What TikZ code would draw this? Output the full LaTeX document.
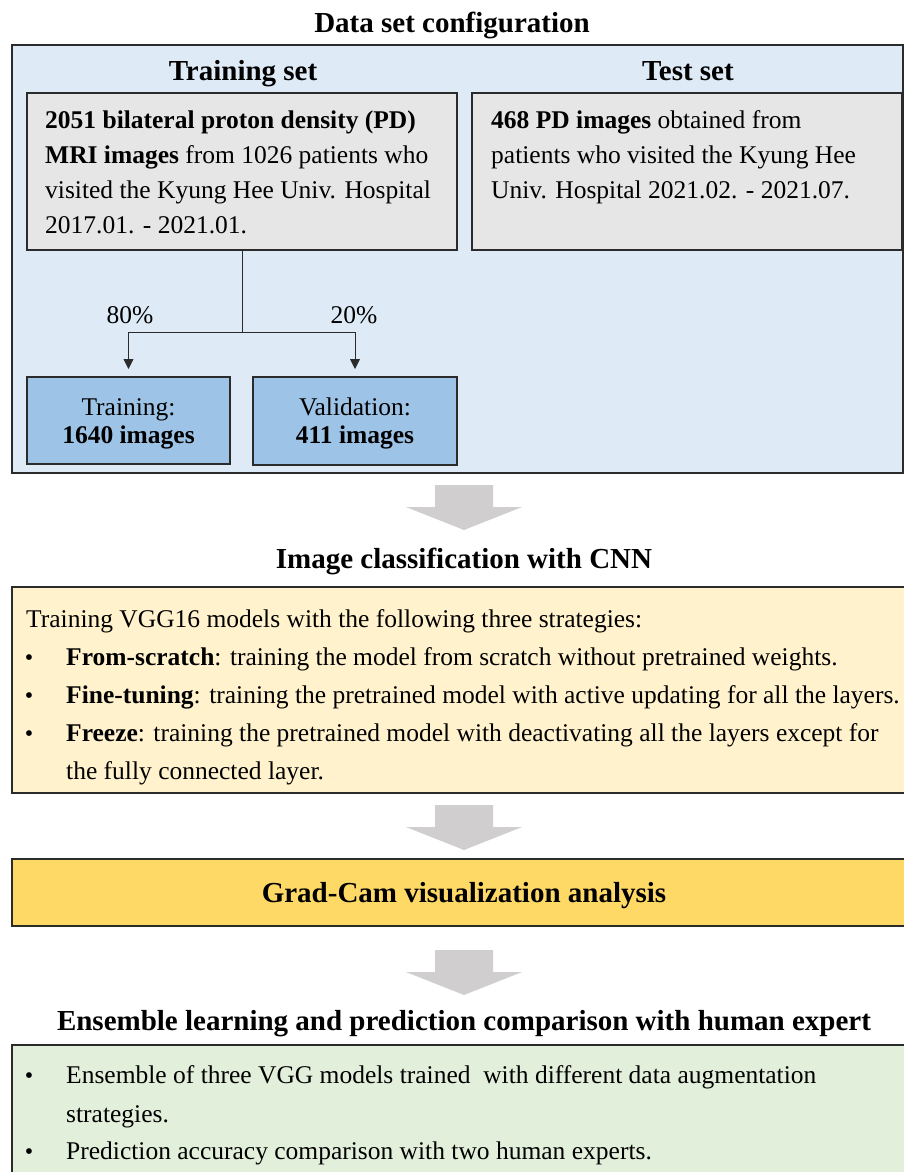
\documentclass[tikz,border=0pt]{standalone}
\usepackage{fontspec}
\setmainfont{Liberation Serif}
\usetikzlibrary{arrows.meta}
\definecolor{bordercol}{HTML}{2B2B2B}
\definecolor{outerblue}{HTML}{DEEBF7}
\definecolor{subblue}{HTML}{9DC3E6}
\definecolor{boxgray}{HTML}{E7E6E6}
\definecolor{lightyellow}{HTML}{FFF2CC}
\definecolor{gold}{HTML}{FFD966}
\definecolor{lightgreen}{HTML}{E2EFDA}
\definecolor{arrowgray}{HTML}{D0CECE}
\tikzset{
  box/.style={draw=bordercol, line width=1.5bp, anchor=north west, inner sep=0, outer sep=0},
  txt/.style={font=\fontsize{25.5bp}{35bp}\selectfont, anchor=base west, inner sep=0},
  ctxt/.style={font=\fontsize{25.5bp}{35bp}\selectfont, anchor=base, inner sep=0},
  ttl/.style={font=\bfseries\fontsize{29bp}{34bp}\selectfont, anchor=base, inner sep=0},
  bul/.style={font=\fontsize{24bp}{35bp}\selectfont, anchor=base, inner sep=0},
  conn/.style={draw=bordercol, line width=0.9bp},
  arr/.style={conn, -{Triangle[width=10bp,length=10bp]}, shorten >=8bp},
  bigarrow/.pic={\fill[arrowgray] (-29,0) -- (29,0) -- (29,22) -- (58,22) -- (0,45) -- (-58,22) -- (-29,22) -- cycle;}
}
\begin{document}
\begin{tikzpicture}[x=1bp,y=-1bp]
\useasboundingbox (0,0) rectangle (904,1172);
\clip (0,0) rectangle (904,1172);
% ---------- Data set configuration ----------
\node[ttl] (t1) at (452,32) {Data set configuration};
\node[box, fill=outerblue, minimum width=891bp, minimum height=428bp] (outer) at (12,45) {};
\node[ttl] (trs) at (243,80) {Training set};
\node[ttl] (tes) at (688,80) {Test set};
\node[box, fill=boxgray, minimum width=430bp, minimum height=157bp] (tr) at (27,93) {};
\node[box, fill=boxgray, minimum width=430bp, minimum height=157bp] (te) at (472,93) {};
\node[txt] (tr1) at (45,128) {\textbf{2051 bilateral proton density (PD)}};
\node[txt] (tr2) at (45,163) {\textbf{MRI images} from 1026 patients who};
\node[txt] (tr3) at (45,198) {visited the Kyung Hee Univ. Hospital};
\node[txt] (tr4) at (45,233) {2017.01. - 2021.01.};
\node[txt] (te1) at (491,128) {\textbf{468 PD images} obtained from};
\node[txt] (te2) at (491,163) {patients who visited the Kyung Hee};
\node[txt] (te3) at (491,198) {Univ. Hospital 2021.02. - 2021.07.};
\node[box, fill=subblue, minimum width=203bp, minimum height=87bp] (trn) at (27,377) {};
\node[box, fill=subblue, minimum width=204bp, minimum height=88bp] (val) at (253,377) {};
\node[ctxt] (trnl1) at (trn.center |- 0,415) {Training:};
\node[ctxt, font=\bfseries\fontsize{25.5bp}{35bp}\selectfont] (trnl2) at (trn.center |- 0,443) {1640 images};
\node[ctxt] (vall1) at (val.center |- 0,415) {Validation:};
\node[ctxt, font=\bfseries\fontsize{25.5bp}{35bp}\selectfont] (vall2) at (val.center |- 0,443) {411 images};
\coordinate (split) at (tr.south |- 0,332);
\draw[conn] (tr.south) -- (split);
\draw[arr] (split) -| (trn.north);
\draw[arr] (split) -| (val.north);
\node[ctxt] (p80) at (130,323) {80\%};
\node[ctxt] (p20) at (354,323) {20\%};
% ---------- arrows ----------
\pic at (464,485) {bigarrow};
\pic at (464,805) {bigarrow};
\pic at (464,950) {bigarrow};
% ---------- Image classification ----------
\node[ttl] (t2) at (464,568) {Image classification with CNN};
\node[box, fill=lightyellow, minimum width=910bp, minimum height=206bp] (cnn) at (12,587) {};
\node[txt] (c1) at (26,627) {Training VGG16 models with the following three strategies:};
\node[bul] (b1) at (29,665) {•};
\node[txt] (c2) at (66,665) {\textbf{From-scratch}: training the model from scratch without pretrained weights.};
\node[bul] (b2) at (29,703) {•};
\node[txt] (c3) at (66,703) {\textbf{Fine-tuning}: training the pretrained model with active updating for all the layers.};
\node[bul] (b3) at (29,741) {•};
\node[txt] (c4) at (66,741) {\textbf{Freeze}: training the pretrained model with deactivating all the layers except for};
\node[txt] (c5) at (66,779) {the fully connected layer.};
% ---------- Grad-Cam ----------
\node[box, fill=gold, minimum width=910bp, minimum height=67bp] (gc) at (12,859) {};
\node[ttl] (gct) at (464,902) {Grad-Cam visualization analysis};
% ---------- Ensemble ----------
\node[ttl] (t3) at (464,1030) {Ensemble learning and prediction comparison with human expert};
\node[box, fill=lightgreen, minimum width=910bp, minimum height=150bp] (ens) at (12,1045) {};
\node[bul] (b4) at (29,1083) {•};
\node[txt] (e1) at (66,1083) {Ensemble of three VGG models trained\ \ with different data augmentation};
\node[txt] (e2) at (66,1122) {strategies.};
\node[bul] (b5) at (29,1159) {•};
\node[txt] (e3) at (66,1159) {Prediction accuracy comparison with two human experts.};
\end{tikzpicture}
\end{document}
